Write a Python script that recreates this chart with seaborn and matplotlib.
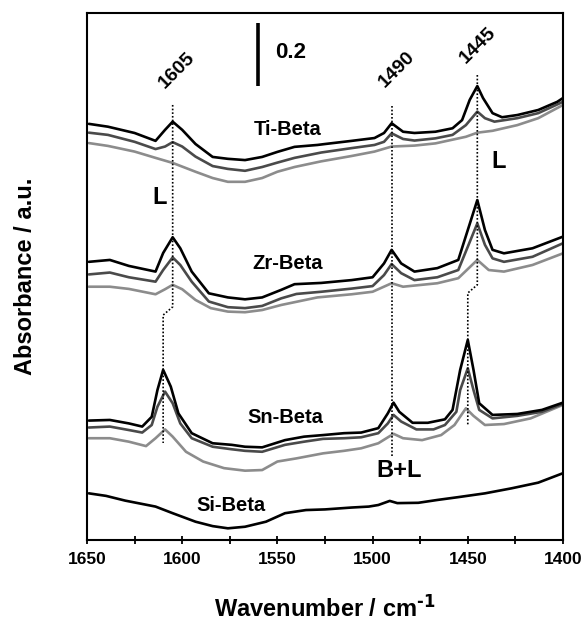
import matplotlib
matplotlib.use("Agg")
import matplotlib.pyplot as plt
from matplotlib.ticker import MultipleLocator
import seaborn as sns
import pandas as pd

sns.set_style("ticks")
plt.rcParams["font.family"] = ["Liberation Sans", "DejaVu Sans"]
plt.rcParams["font.weight"] = "bold"
plt.rcParams["mathtext.default"] = "regular"
plt.rcParams["text.color"] = "black"
plt.rcParams["axes.labelcolor"] = "black"
plt.rcParams["axes.edgecolor"] = "black"
plt.rcParams["xtick.color"] = "black"

OUTPUT = "out.png"

# spectra: wavenumber (cm-1) and absorbance (a.u., stacked)
TI_1_WN = [1649, 1639, 1625, 1614, 1609, 1605, 1600, 1593, 1584, 1576, 1567, 1558, 1550, 1541, 1529, 1525,
           1511, 1499, 1494, 1490, 1484, 1478, 1467, 1458, 1453, 1449, 1445, 1442, 1437, 1432, 1424, 1413, 1403, 1400]
TI_1_A = [1.321, 1.312, 1.292, 1.267, 1.302, 1.328, 1.302, 1.257, 1.216, 1.210, 1.206, 1.216, 1.232, 1.248, 1.254, 1.257,
          1.267, 1.276, 1.292, 1.323, 1.296, 1.292, 1.296, 1.307, 1.333, 1.397, 1.441, 1.403, 1.355, 1.342, 1.349, 1.365, 1.391, 1.403]
TI_2_WN = [1649, 1639, 1625, 1614, 1609, 1605, 1600, 1593, 1584, 1576, 1567, 1558, 1550, 1541, 1527,
           1511, 1499, 1494, 1490, 1484, 1478, 1467, 1458, 1451, 1445, 1441, 1436, 1424, 1413, 1400]
TI_2_A = [1.293, 1.286, 1.264, 1.241, 1.249, 1.263, 1.249, 1.217, 1.187, 1.178, 1.172, 1.184, 1.198, 1.213, 1.230,
          1.244, 1.254, 1.264, 1.291, 1.273, 1.268, 1.275, 1.286, 1.317, 1.360, 1.339, 1.328, 1.339, 1.355, 1.391]
TI_3_WN = [1649, 1639, 1625, 1614, 1605, 1593, 1584, 1576, 1567, 1558, 1550, 1541, 1527, 1511, 1499, 1490,
           1478, 1467, 1451, 1445, 1437, 1424, 1413, 1400]
TI_3_A = [1.260, 1.251, 1.233, 1.213, 1.197, 1.169, 1.149, 1.137, 1.137, 1.149, 1.169, 1.184, 1.202, 1.219, 1.233, 1.249,
          1.252, 1.259, 1.280, 1.293, 1.299, 1.317, 1.339, 1.381]

ZR_1_WN = [1649, 1638, 1628, 1614, 1610, 1605, 1601, 1595, 1586, 1576, 1567, 1558, 1548, 1541, 1527, 1511, 1500,
           1494, 1490, 1485, 1478, 1466, 1455, 1450, 1445, 1441, 1437, 1431, 1416, 1400]
ZR_1_A = [0.883, 0.889, 0.870, 0.852, 0.911, 0.961, 0.926, 0.852, 0.783, 0.770, 0.764, 0.770, 0.794, 0.812, 0.816, 0.825, 0.834,
          0.878, 0.921, 0.878, 0.852, 0.863, 0.889, 0.984, 1.079, 0.984, 0.921, 0.910, 0.926, 0.963]
ZR_2_WN = [1649, 1638, 1628, 1614, 1610, 1605, 1601, 1595, 1586, 1576, 1567, 1558, 1548, 1540, 1527, 1511, 1500,
           1494, 1490, 1485, 1478, 1466, 1455, 1450, 1445, 1441, 1437, 1431, 1416, 1400]
ZR_2_A = [0.843, 0.849, 0.834, 0.820, 0.857, 0.897, 0.873, 0.820, 0.757, 0.739, 0.736, 0.743, 0.767, 0.781, 0.788, 0.798, 0.806,
          0.841, 0.876, 0.847, 0.825, 0.834, 0.857, 0.931, 1.005, 0.937, 0.894, 0.883, 0.899, 0.942]
ZR_3_WN = [1649, 1638, 1628, 1614, 1609, 1605, 1600, 1593, 1585, 1576, 1567, 1558, 1548, 1529, 1511, 1500, 1490,
           1484, 1466, 1455, 1445, 1439, 1431, 1416, 1400]
ZR_3_A = [0.804, 0.804, 0.797, 0.780, 0.796, 0.810, 0.796, 0.762, 0.736, 0.725, 0.723, 0.730, 0.746, 0.770, 0.780, 0.788, 0.815,
          0.804, 0.815, 0.831, 0.889, 0.857, 0.852, 0.873, 0.910]

SN_1_WN = [1649, 1638, 1628, 1621, 1616, 1613, 1610, 1606, 1602, 1595, 1584, 1574, 1567, 1558, 1546, 1536, 1526, 1515,
           1506, 1497, 1492, 1489, 1486, 1479, 1471, 1462, 1458, 1454, 1450, 1447, 1444, 1437, 1424, 1411, 1400]
SN_1_A = [0.379, 0.381, 0.370, 0.360, 0.391, 0.476, 0.540, 0.487, 0.402, 0.339, 0.307, 0.302, 0.296, 0.294, 0.317, 0.328, 0.333, 0.339,
          0.341, 0.355, 0.402, 0.436, 0.407, 0.372, 0.372, 0.383, 0.413, 0.540, 0.635, 0.540, 0.434, 0.397, 0.400, 0.413, 0.436]
SN_2_WN = [1649, 1638, 1628, 1621, 1616, 1613, 1609, 1605, 1601, 1595, 1584, 1574, 1567, 1558, 1546, 1536, 1526, 1515,
           1506, 1497, 1492, 1489, 1485, 1477, 1468, 1462, 1456, 1454, 1450, 1447, 1444, 1437, 1424, 1411, 1400]
SN_2_A = [0.357, 0.360, 0.349, 0.341, 0.365, 0.423, 0.471, 0.434, 0.370, 0.323, 0.296, 0.288, 0.283, 0.280, 0.302, 0.312, 0.321, 0.323,
          0.326, 0.339, 0.370, 0.397, 0.376, 0.351, 0.351, 0.365, 0.407, 0.476, 0.545, 0.476, 0.413, 0.386, 0.394, 0.407, 0.432]
SN_3_WN = [1649, 1638, 1628, 1619, 1614, 1609, 1605, 1598, 1589, 1578, 1567, 1558, 1550, 1540, 1526, 1515, 1506, 1497,
           1489, 1484, 1474, 1464, 1457, 1451, 1447, 1441, 1431, 1417, 1400]
SN_3_A = [0.323, 0.323, 0.312, 0.298, 0.323, 0.351, 0.328, 0.280, 0.249, 0.228, 0.220, 0.222, 0.249, 0.259, 0.275, 0.283, 0.291, 0.307,
          0.337, 0.323, 0.317, 0.333, 0.365, 0.418, 0.394, 0.365, 0.368, 0.386, 0.429]

SI_WN = [1649, 1640, 1630, 1614, 1605, 1593, 1584, 1576, 1567, 1556, 1546, 1535, 1525, 1511, 1502, 1497, 1491, 1487,
         1476, 1466, 1455, 1441, 1427, 1413, 1400]
SI_A = [0.148, 0.140, 0.125, 0.106, 0.085, 0.058, 0.044, 0.037, 0.042, 0.058, 0.085, 0.095, 0.097, 0.103, 0.106, 0.111, 0.124, 0.117,
        0.118, 0.127, 0.136, 0.148, 0.164, 0.182, 0.212]

SHADES = ["#000000", "#4a4a4a", "#8c8c8c"]

# dotted guides through the band maxima (wavenumber, absorbance)
GUIDE_1605 = ([1605, 1605, 1610, 1610], [1.381, 0.740, 0.714, 0.308])
GUIDE_1490 = ([1490, 1490], [1.378, 0.263])
GUIDE_1445 = ([1445, 1445, 1450, 1450], [1.476, 0.810, 0.784, 0.365])


def main():
    fig = plt.figure(figsize=(5.87, 6.27), dpi=100)
    ax = fig.add_axes([0.1482, 0.1388, 0.8109, 0.8405])

    groups = [
        [(TI_3_WN, TI_3_A), (TI_2_WN, TI_2_A), (TI_1_WN, TI_1_A)],
        [(ZR_3_WN, ZR_3_A), (ZR_2_WN, ZR_2_A), (ZR_1_WN, ZR_1_A)],
        [(SN_3_WN, SN_3_A), (SN_2_WN, SN_2_A), (SN_1_WN, SN_1_A)],
    ]
    for group in groups:
        for (wn, a), color in zip(group, SHADES[::-1]):
            df = pd.DataFrame({"wn": wn, "A": a})
            sns.lineplot(data=df, x="wn", y="A", ax=ax, color=color, linewidth=1.9,
                         estimator=None, sort=False)
    sns.lineplot(x=SI_WN, y=SI_A, ax=ax, color="black", linewidth=1.9, estimator=None, sort=False)

    for gx, gy in (GUIDE_1605, GUIDE_1490, GUIDE_1445):
        ax.plot(gx, gy, color="black", linestyle=(0, (1, 1.2)), linewidth=1.2)

    # scale bar
    ax.plot([1560, 1560], [1.441, 1.641], color="black", linewidth=2.6, solid_capstyle="butt")
    ax.text(1551.3, 1.549, "0.2", fontsize=16, fontweight="bold", ha="left", va="center")

    for wn, a, s in [(1544.4, 1.302, "Ti-Beta"), (1544.4, 0.879, "Zr-Beta"),
                     (1546, 0.390, "Sn-Beta"), (1574.4, 0.111, "Si-Beta")]:
        ax.text(wn, a, s, fontsize=14.5, fontweight="bold", ha="center", va="center")
    for wn, a, s in [(1611.7, 1.086, "L"), (1433.6, 1.200, "L"), (1486, 0.222, "B+L")]:
        ax.text(wn, a, s, fontsize=17, fontweight="bold", ha="center", va="center")
    for wn, a, s in [(1602.7, 1.492, "1605"), (1487.2, 1.492, "1490"), (1444.6, 1.571, "1445")]:
        ax.text(wn, a, s, fontsize=14, fontweight="bold", ha="center", va="center", rotation=45)

    ax.set_xlim(1650, 1400)
    ax.set_ylim(0, 1.673)
    ax.xaxis.set_major_locator(MultipleLocator(50))
    ax.xaxis.set_minor_locator(MultipleLocator(25))
    ax.tick_params(axis="x", which="both", direction="inout", length=6, width=1.3, pad=6,
                   labelsize=12.5, top=False)
    ax.tick_params(axis="y", left=False, labelleft=False)
    for lab in ax.get_xticklabels():
        lab.set_fontweight("bold")
    for sp in ax.spines.values():
        sp.set_linewidth(1.5)
        sp.set_visible(True)

    ax.set_xlabel("Wavenumber / cm$^{\\text{-1}}$", fontsize=17, fontweight="bold", labelpad=20)
    ax.set_ylabel("Absorbance / a.u.", fontsize=17, fontweight="bold", labelpad=36)

    plt.savefig(OUTPUT, dpi=100, facecolor="white")
    plt.close()


if __name__ == "__main__":
    main()
